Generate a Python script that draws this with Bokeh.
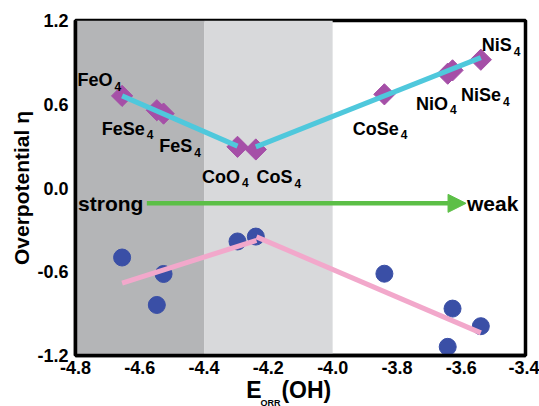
from bokeh.plotting import figure
from bokeh.models import (BoxAnnotation, Arrow, NormalHead, Label, FixedTicker,
                          ColumnDataSource, LinearAxis)
from bokeh.core.properties import value
from bokeh.embed import file_html
from bokeh.resources import INLINE

# ---- data ----
materials = ["FeO", "FeSe", "FeS", "CoO", "CoS", "CoSe", "NiO", "NiSe", "NiS"]
e_orr_oh = [-4.655, -4.547, -4.526, -4.296, -4.239, -3.839, -3.642, -3.627, -3.539]
eta_diamond = [0.66, 0.557, 0.533, 0.295, 0.276, 0.671, 0.819, 0.843, 0.919]
eta_circle = [-0.498, -0.838, -0.616, -0.383, -0.348, -0.614, -1.138, -0.864, -0.990]

cyan_left_x = [-4.655, -4.296]
cyan_left_y = [0.66, 0.30]
cyan_right_x = [-4.239, -3.539]
cyan_right_y = [0.295, 0.934]
pink_left_x = [-4.655, -4.237]
pink_left_y = [-0.681, -0.376]
pink_right_x = [-4.237, -3.539]
pink_right_y = [-0.350, -1.038]

region_dark = [-4.8, -4.4]
region_light = [-4.4, -4.0]

x_ticks = [-4.8, -4.6, -4.4, -4.2, -4.0, -3.8, -3.6, -3.4]
y_ticks = [-1.2, -0.6, 0.0, 0.6, 1.2]

arrow_y = -0.11
arrow_x = [-4.578, -3.585]

x_title_main = ["E", "(OH)"]
x_title_pos = [-4.245, -4.082]
x_title_sub = "ORR"

# label pixel offsets (style)
lab_dx = [-44.7, -55, -4.3, -35.4, 0.7, -31.7, -31.6, 8.4, 1]
lab_dy = [-15.7, 18.3, 32.4, 30, 27.7, 34.3, 30, 25, -14.3]

FONT = "Liberation Sans"

p = figure(width=539, height=406, frame_width=450, frame_height=335,
           x_range=(-4.8, -3.4), y_range=(-1.2, 1.2),
           output_backend="svg", toolbar_location=None,
           min_border_left=75, min_border_right=14, min_border_top=20, min_border_bottom=51)
p.background_fill_color = "white"
p.border_fill_color = "white"
p.grid.visible = False
p.outline_line_color = "black"
p.outline_line_width = 3.5

p.add_layout(BoxAnnotation(left=region_dark[0], right=region_dark[1], fill_color="#b4b5b7",
                           fill_alpha=1, line_alpha=0, level="underlay"))
p.add_layout(BoxAnnotation(left=region_light[0], right=region_light[1], fill_color="#d8d9db",
                           fill_alpha=1, line_alpha=0, level="underlay"))

for ax in (p.xaxis[0], p.yaxis[0]):
    ax.axis_line_width = 3.5
    ax.axis_line_color = "black"
    ax.major_tick_line_color = None
    ax.minor_tick_line_color = None
    ax.major_tick_out = 0
    ax.major_tick_in = 0
    ax.minor_tick_out = 0
    ax.minor_tick_in = 0
    ax.major_label_text_font = FONT
    ax.major_label_text_font_style = "bold"
    ax.major_label_text_font_size = "18px"
    ax.major_label_text_color = "black"

p.xaxis.ticker = FixedTicker(ticks=x_ticks)
p.yaxis.ticker = FixedTicker(ticks=y_ticks)
p.xaxis.major_label_overrides = {t: f"{t:.1f}" for t in x_ticks}
p.yaxis.major_label_overrides = {t: f"{t:.1f}" for t in y_ticks}
p.xaxis.major_label_standoff = 5
p.yaxis.major_label_standoff = 7

p.yaxis.axis_label = "Overpotential \u03b7"
p.yaxis.axis_label_text_font = FONT
p.yaxis.axis_label_text_font_style = "bold"
p.yaxis.axis_label_text_font_size = "21px"
p.yaxis.axis_label_text_color = "black"
p.yaxis.axis_label_standoff = 1

# x-axis title, drawn as a second, line-less axis below the first
xt = LinearAxis(ticker=FixedTicker(ticks=x_title_pos),
                major_label_overrides={t: s for t, s in zip(x_title_pos, x_title_main)},
                axis_line_color=None, major_tick_line_color=None, minor_tick_line_color=None,
                major_tick_out=0, major_tick_in=0, minor_tick_out=0, minor_tick_in=0,
                major_label_standoff=0,
                major_label_text_font=FONT, major_label_text_font_style="bold",
                major_label_text_font_size="23px", major_label_text_color="black",
                axis_label=x_title_sub + "\u00a0" * 24, axis_label_standoff=-8,
                axis_label_text_font=FONT, axis_label_text_font_style="bold",
                axis_label_text_font_size="9px", axis_label_text_color="black")
p.add_layout(xt, "below")

src = ColumnDataSource(dict(x=e_orr_oh, yd=eta_diamond, yc=eta_circle,
                            name=list(materials), dx=lab_dx, dy=lab_dy))

# markers
p.scatter("x", "yd", source=src, marker="square", angle=0.785398, size=15,
          fill_color="#a54fa7", line_color="#a54fa7")
p.scatter("x", "yc", source=src, marker="circle", size=17,
          fill_color="#3a4fa6", line_color="#3a4fa6")

# trend lines
p.line(cyan_left_x, cyan_left_y, line_color="#4fc8dc", line_width=5)
p.line(cyan_right_x, cyan_right_y, line_color="#4fc8dc", line_width=5)
p.line(pink_left_x, pink_left_y, line_color="#f2a8cb", line_width=5)
p.line(pink_right_x, pink_right_y, line_color="#f2a8cb", line_width=5)

# labels
p.text("x", "yd", text="name", source=src, x_offset="dx", y_offset="dy",
       text_font=value(FONT), text_font_style="bold", text_font_size="18px",
       text_baseline="alphabetic", text_align="left", text_color="black")

# subscript: estimate width of main text in Arial-bold em units
w = {"F": .611, "e": .556, "O": .778, "S": .667, "C": .722, "o": .611, "N": .722, "i": .278}
sub_dx = [d + sum(w[c] for c in m) * 18 + 2 for d, m in zip(lab_dx, materials)]
sub_dy = [d + 6 for d in lab_dy]
src2 = ColumnDataSource(dict(x=e_orr_oh, y=eta_diamond, t=["4"] * len(materials), dx=sub_dx, dy=sub_dy))
p.text("x", "y", text="t", source=src2, x_offset="dx", y_offset="dy",
       text_font=value(FONT), text_font_style="bold", text_font_size="12px",
       text_baseline="alphabetic", text_align="left", text_color="black")

# arrow
p.add_layout(Arrow(end=NormalHead(size=18, fill_color="#5cbf47", line_color="#5cbf47"),
                   x_start=arrow_x[0], y_start=arrow_y, x_end=arrow_x[1], y_end=arrow_y,
                   line_color="#5cbf47", line_width=4.5))
p.add_layout(Label(x=-4.792, y=arrow_y, text="strong", text_font=FONT, text_font_style="bold",
                   text_font_size="21px", text_baseline="middle", text_color="black"))
p.add_layout(Label(x=-3.582, y=arrow_y, text="weak", text_font=FONT, text_font_style="bold",
                   text_font_size="21px", text_baseline="middle", text_color="black"))

open("out.html", "w").write(file_html(p, INLINE))
